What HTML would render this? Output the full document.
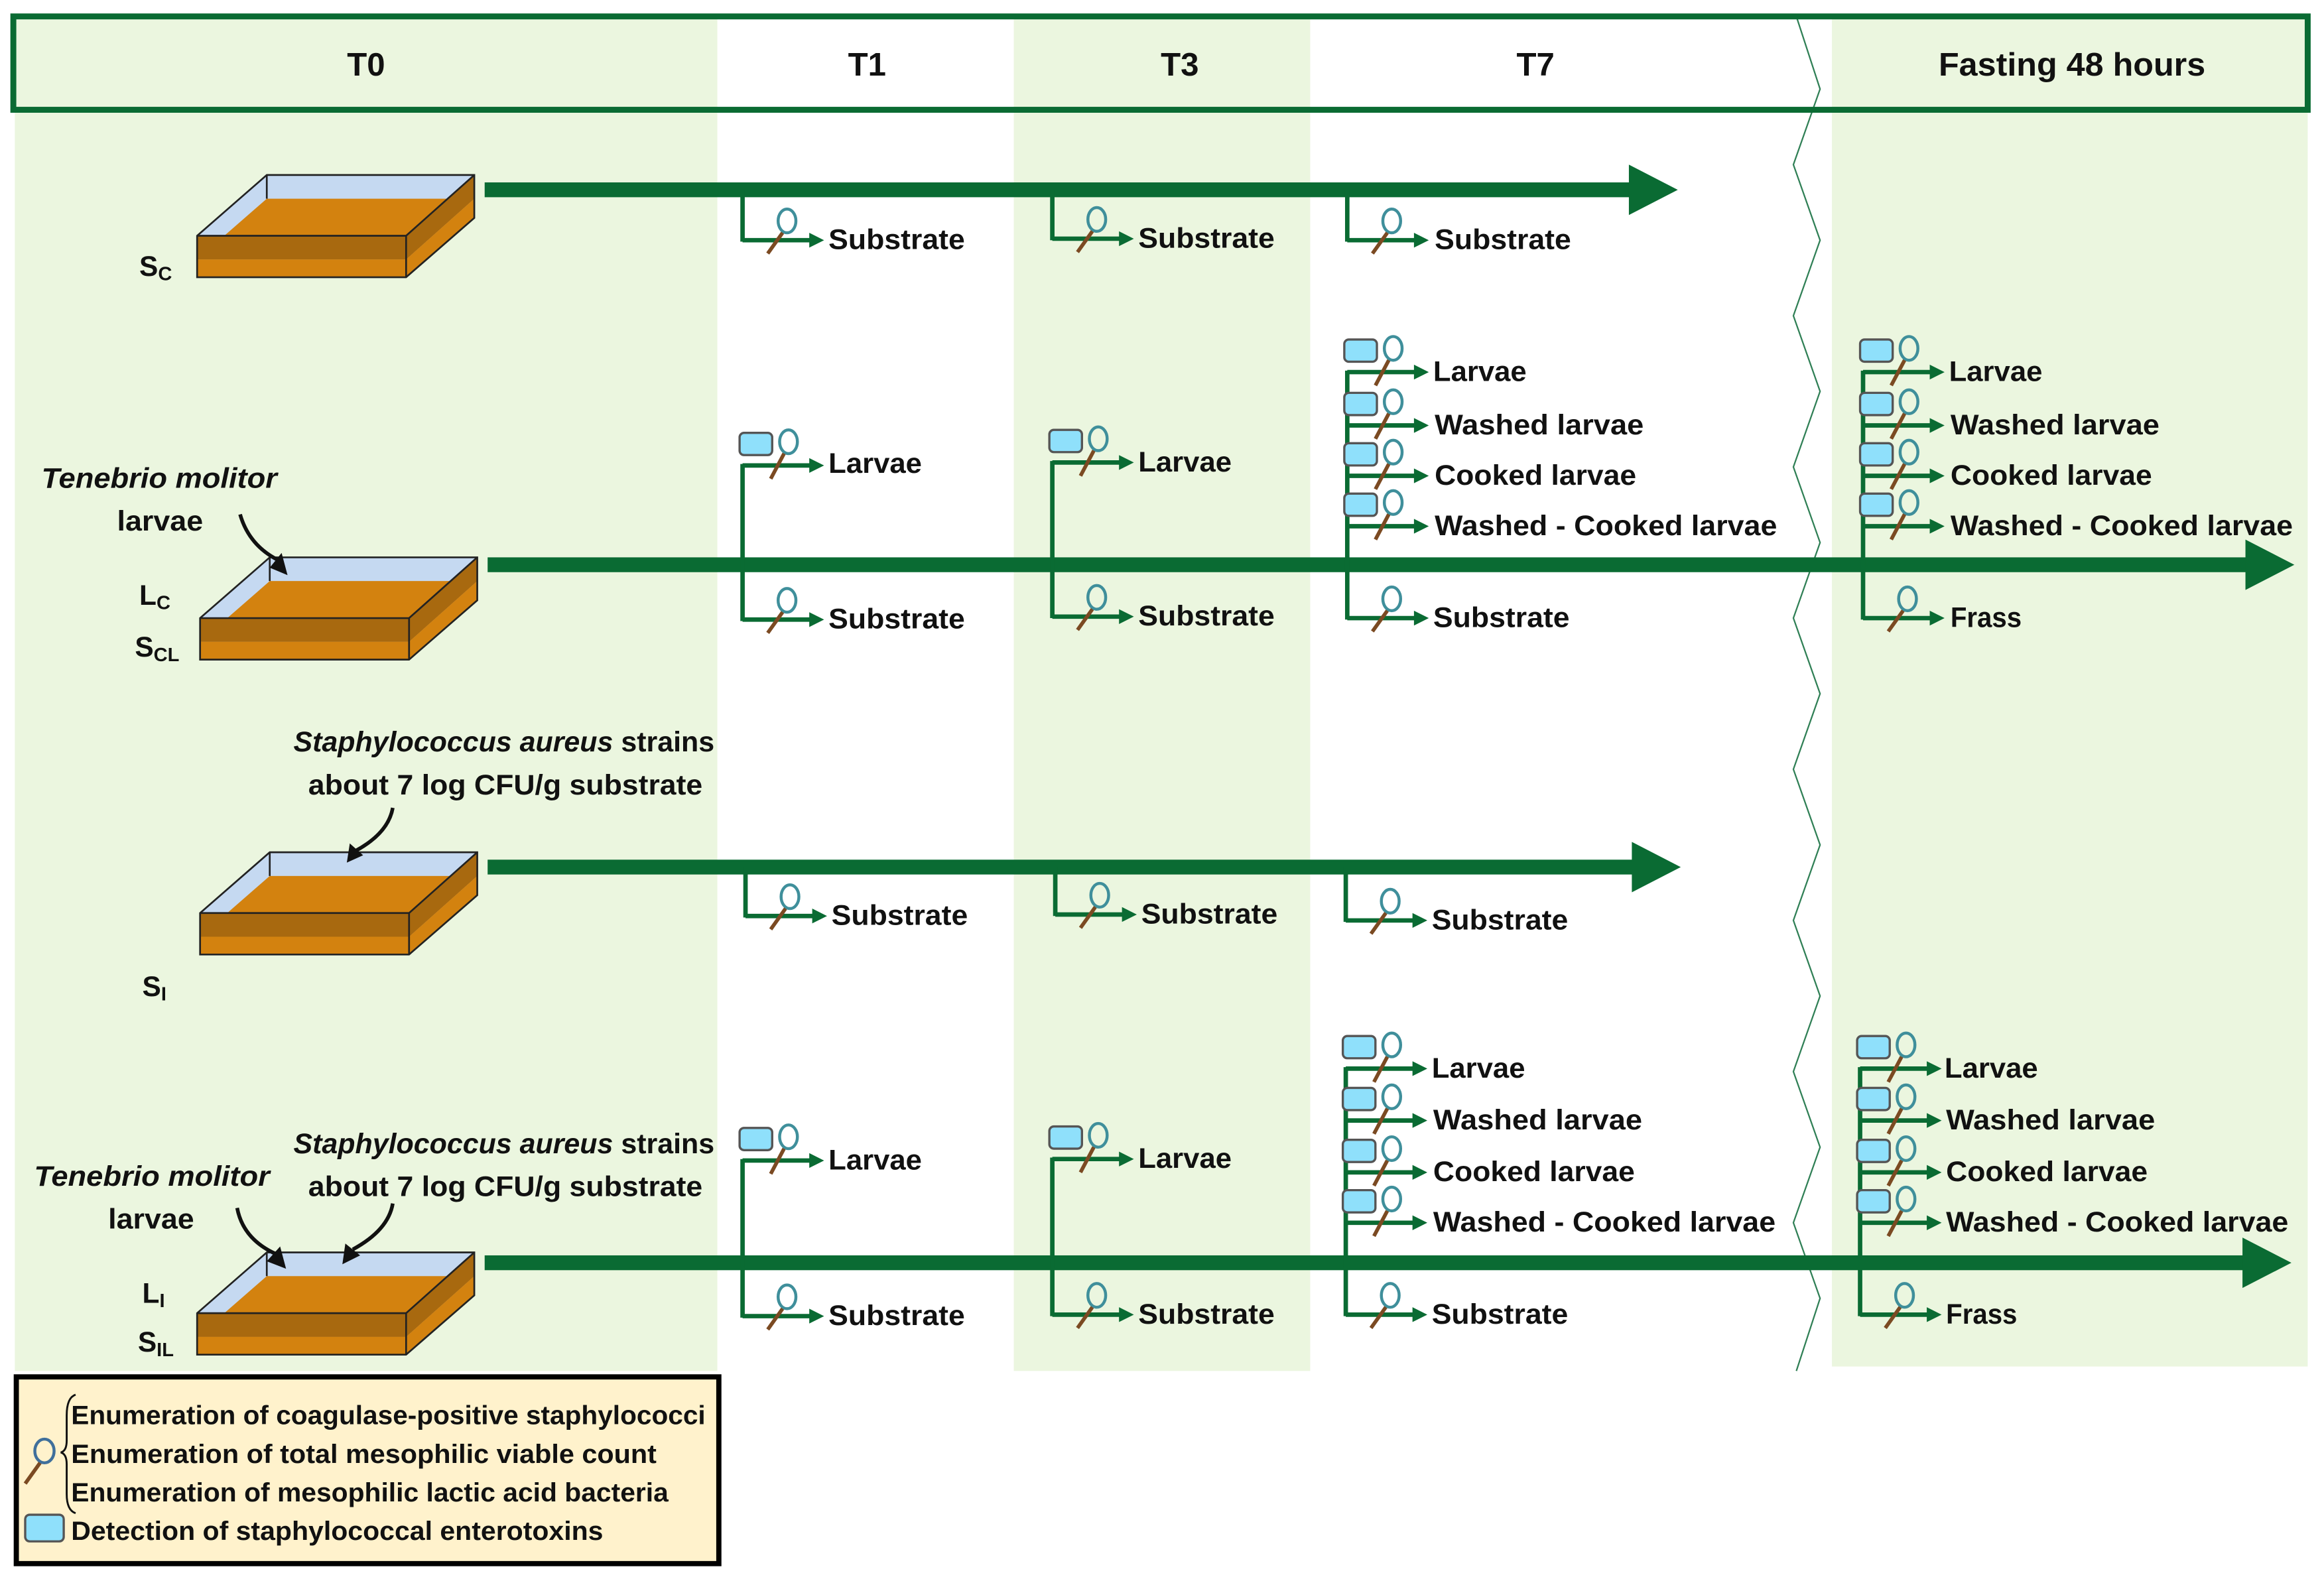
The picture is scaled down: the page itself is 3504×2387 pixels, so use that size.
<!DOCTYPE html>
<html><head><meta charset="utf-8"><style>
html,body{margin:0;padding:0;background:#fff}
svg{display:block}
text{font-family:"Liberation Sans",sans-serif;font-weight:bold;fill:#111}
</style></head><body>
<svg width="3504" height="2387" viewBox="0 0 1568 1068" xmlns="http://www.w3.org/2000/svg">
<defs>
<g id="br"><path d="M0,0H47" stroke="#0a6b33" stroke-width="3" fill="none"/><polygon points="45,-5 55,0 45,5" fill="#0a6b33"/></g>
<g id="mg"><ellipse cx="30" cy="-13" rx="6" ry="8" fill="none" stroke="#3f8f9b" stroke-width="2"/><line x1="27" y1="-5" x2="17" y2="9" stroke="#7b4a22" stroke-width="2.5"/></g>
<g id="mgr"><rect x="0" y="-22" width="22" height="15" rx="3" fill="#8fe0fb" stroke="#555" stroke-width="1.5"/><ellipse cx="33" cy="-16" rx="6" ry="8" fill="none" stroke="#3f8f9b" stroke-width="2"/><line x1="30" y1="-8" x2="21" y2="9" stroke="#7b4a22" stroke-width="2.5"/></g>
<g id="box">
<polygon points="0,41 47,0 187,0 187,29 141,69 0,69" fill="#c5d9f1"/>
<polygon points="47,16 187,16 141,57 0,57" fill="#d3820f"/>
<polygon points="0,41 141,41 141,57 0,57" fill="#a8690f"/>
<polygon points="141,41 187,0 187,16 141,57" fill="#a8690f"/>
<polygon points="0,57 141,57 141,69 0,69" fill="#d3820f"/>
<polygon points="141,57 187,16 187,29 141,69" fill="#d3820f"/>
<polygon points="0,41 47,0 187,0 187,29 141,69 0,69" fill="none" stroke="#222" stroke-width="1.2"/>
<path d="M0,41H141V69M141,41L187,0M47,0V16" fill="none" stroke="#222" stroke-width="1.2"/>
</g>
</defs>
<!-- column backgrounds -->
<rect x="10" y="11" width="474" height="914" fill="#ebf6df"/>
<rect x="684" y="11" width="200" height="914" fill="#ebf6df"/>
<rect x="1236" y="11" width="321" height="911" fill="#ebf6df"/>
<!-- zigzag -->
<polyline points="1212,11 1228,60 1210,111 1228,162 1210,213 1228,264 1210,315 1228,366 1210,417 1228,468 1210,519 1228,570 1210,621 1228,672 1210,723 1228,774 1210,825 1228,876 1212,925" fill="none" stroke="#2f7f55" stroke-width="1"/>
<!-- header -->
<rect x="9" y="11" width="1548" height="63" fill="none" stroke="#0a6b33" stroke-width="4"/>
<g font-size="22" text-anchor="middle">
<text x="247" y="51">T0</text><text x="585" y="51">T1</text><text x="796" y="51">T3</text><text x="1036" y="51">T7</text>
<text x="1398" y="51" textLength="180" lengthAdjust="spacingAndGlyphs">Fasting 48 hours</text>
</g>
<!-- boxes -->
<use href="#box" x="133" y="118"/>
<use href="#box" x="135" y="376"/>
<use href="#box" x="135" y="575"/>
<use href="#box" x="133" y="845"/>
<!-- main arrows -->
<g fill="#0a6b33">
<rect x="327" y="123" width="775" height="10"/><polygon points="1099,111 1132,128 1099,145"/>
<rect x="329" y="376" width="1190" height="10"/><polygon points="1515,364 1548,381 1515,398"/>
<rect x="329" y="580" width="775" height="10"/><polygon points="1101,568 1134,585 1101,602"/>
<rect x="327" y="847" width="1190" height="10"/><polygon points="1513,835 1546,852 1513,869"/>
</g>
<!-- vertical branch lines -->
<g stroke="#0a6b33" stroke-width="3">
<line x1="501" y1="128" x2="501" y2="163"/><line x1="710" y1="128" x2="710" y2="162"/><line x1="909" y1="128" x2="909" y2="163"/>
<line x1="501" y1="313" x2="501" y2="419"/><line x1="710" y1="311" x2="710" y2="417"/><line x1="909" y1="250" x2="909" y2="418"/><line x1="1257" y1="250" x2="1257" y2="418"/>
<line x1="503" y1="585" x2="503" y2="619"/><line x1="712" y1="585" x2="712" y2="618"/><line x1="908" y1="585" x2="908" y2="622"/>
<line x1="501" y1="782" x2="501" y2="889"/><line x1="710" y1="781" x2="710" y2="888"/><line x1="908" y1="720" x2="908" y2="888"/><line x1="1255" y1="720" x2="1255" y2="888"/>
</g>
<!-- branches -->
<g font-size="19">
<!-- row1 -->
<use href="#br" x="501" y="162"/><use href="#mg" x="501" y="162"/><text x="559" y="168" textLength="92" lengthAdjust="spacingAndGlyphs">Substrate</text>
<use href="#br" x="710" y="161"/><use href="#mg" x="710" y="161"/><text x="768" y="167" textLength="92" lengthAdjust="spacingAndGlyphs">Substrate</text>
<use href="#br" x="909" y="162"/><use href="#mg" x="909" y="162"/><text x="968" y="168" textLength="92" lengthAdjust="spacingAndGlyphs">Substrate</text>
<!-- row2 -->
<use href="#br" x="501" y="314"/><use href="#mgr" x="499" y="314"/><text x="559" y="319" textLength="63" lengthAdjust="spacingAndGlyphs">Larvae</text>
<use href="#br" x="501" y="418"/><use href="#mg" x="501" y="418"/><text x="559" y="424" textLength="92" lengthAdjust="spacingAndGlyphs">Substrate</text>
<use href="#br" x="710" y="312"/><use href="#mgr" x="708" y="312"/><text x="768" y="318" textLength="63" lengthAdjust="spacingAndGlyphs">Larvae</text>
<use href="#br" x="710" y="416"/><use href="#mg" x="710" y="416"/><text x="768" y="422" textLength="92" lengthAdjust="spacingAndGlyphs">Substrate</text>
<use href="#br" x="909" y="251"/><use href="#mgr" x="907" y="251"/><text x="967" y="257" textLength="63" lengthAdjust="spacingAndGlyphs">Larvae</text>
<use href="#br" x="909" y="287"/><use href="#mgr" x="907" y="287"/><text x="968" y="293" textLength="141" lengthAdjust="spacingAndGlyphs">Washed larvae</text>
<use href="#br" x="909" y="321"/><use href="#mgr" x="907" y="321"/><text x="968" y="327" textLength="136" lengthAdjust="spacingAndGlyphs">Cooked larvae</text>
<use href="#br" x="909" y="355"/><use href="#mgr" x="907" y="355"/><text x="968" y="361" textLength="231" lengthAdjust="spacingAndGlyphs">Washed - Cooked larvae</text>
<use href="#br" x="909" y="417"/><use href="#mg" x="909" y="417"/><text x="967" y="423" textLength="92" lengthAdjust="spacingAndGlyphs">Substrate</text>
<use href="#br" x="1257" y="251"/><use href="#mgr" x="1255" y="251"/><text x="1315" y="257" textLength="63" lengthAdjust="spacingAndGlyphs">Larvae</text>
<use href="#br" x="1257" y="287"/><use href="#mgr" x="1255" y="287"/><text x="1316" y="293" textLength="141" lengthAdjust="spacingAndGlyphs">Washed larvae</text>
<use href="#br" x="1257" y="321"/><use href="#mgr" x="1255" y="321"/><text x="1316" y="327" textLength="136" lengthAdjust="spacingAndGlyphs">Cooked larvae</text>
<use href="#br" x="1257" y="355"/><use href="#mgr" x="1255" y="355"/><text x="1316" y="361" textLength="231" lengthAdjust="spacingAndGlyphs">Washed - Cooked larvae</text>
<use href="#br" x="1257" y="417"/><use href="#mg" x="1257" y="417"/><text x="1316" y="423" textLength="48" lengthAdjust="spacingAndGlyphs">Frass</text>
<!-- row3 -->
<use href="#br" x="503" y="618"/><use href="#mg" x="503" y="618"/><text x="561" y="624" textLength="92" lengthAdjust="spacingAndGlyphs">Substrate</text>
<use href="#br" x="712" y="617"/><use href="#mg" x="712" y="617"/><text x="770" y="623" textLength="92" lengthAdjust="spacingAndGlyphs">Substrate</text>
<use href="#br" x="908" y="621"/><use href="#mg" x="908" y="621"/><text x="966" y="627" textLength="92" lengthAdjust="spacingAndGlyphs">Substrate</text>
<!-- row4 -->
<use href="#br" x="501" y="783"/><use href="#mgr" x="499" y="783"/><text x="559" y="789" textLength="63" lengthAdjust="spacingAndGlyphs">Larvae</text>
<use href="#br" x="501" y="888"/><use href="#mg" x="501" y="888"/><text x="559" y="894" textLength="92" lengthAdjust="spacingAndGlyphs">Substrate</text>
<use href="#br" x="710" y="782"/><use href="#mgr" x="708" y="782"/><text x="768" y="788" textLength="63" lengthAdjust="spacingAndGlyphs">Larvae</text>
<use href="#br" x="710" y="887"/><use href="#mg" x="710" y="887"/><text x="768" y="893" textLength="92" lengthAdjust="spacingAndGlyphs">Substrate</text>
<use href="#br" x="908" y="721"/><use href="#mgr" x="906" y="721"/><text x="966" y="727" textLength="63" lengthAdjust="spacingAndGlyphs">Larvae</text>
<use href="#br" x="908" y="756"/><use href="#mgr" x="906" y="756"/><text x="967" y="762" textLength="141" lengthAdjust="spacingAndGlyphs">Washed larvae</text>
<use href="#br" x="908" y="791"/><use href="#mgr" x="906" y="791"/><text x="967" y="797" textLength="136" lengthAdjust="spacingAndGlyphs">Cooked larvae</text>
<use href="#br" x="908" y="825"/><use href="#mgr" x="906" y="825"/><text x="967" y="831" textLength="231" lengthAdjust="spacingAndGlyphs">Washed - Cooked larvae</text>
<use href="#br" x="908" y="887"/><use href="#mg" x="908" y="887"/><text x="966" y="893" textLength="92" lengthAdjust="spacingAndGlyphs">Substrate</text>
<use href="#br" x="1255" y="721"/><use href="#mgr" x="1253" y="721"/><text x="1312" y="727" textLength="63" lengthAdjust="spacingAndGlyphs">Larvae</text>
<use href="#br" x="1255" y="756"/><use href="#mgr" x="1253" y="756"/><text x="1313" y="762" textLength="141" lengthAdjust="spacingAndGlyphs">Washed larvae</text>
<use href="#br" x="1255" y="791"/><use href="#mgr" x="1253" y="791"/><text x="1313" y="797" textLength="136" lengthAdjust="spacingAndGlyphs">Cooked larvae</text>
<use href="#br" x="1255" y="825"/><use href="#mgr" x="1253" y="825"/><text x="1313" y="831" textLength="231" lengthAdjust="spacingAndGlyphs">Washed - Cooked larvae</text>
<use href="#br" x="1255" y="887"/><use href="#mg" x="1255" y="887"/><text x="1313" y="893" textLength="48" lengthAdjust="spacingAndGlyphs">Frass</text>
</g>
<!-- left labels -->
<g font-size="19">
<text x="94" y="186">S<tspan font-size="13" dy="3">C</tspan></text>
<text x="94" y="408">L<tspan font-size="13" dy="3">C</tspan></text>
<text x="91" y="443">S<tspan font-size="13" dy="3">CL</tspan></text>
<text x="96" y="672">S<tspan font-size="13" dy="3">I</tspan></text>
<text x="96" y="879">L<tspan font-size="13" dy="3">I</tspan></text>
<text x="93" y="912">S<tspan font-size="13" dy="3">IL</tspan></text>
<text x="28" y="329" font-style="italic" textLength="159" lengthAdjust="spacingAndGlyphs">Tenebrio molitor</text>
<text x="79" y="358" textLength="58" lengthAdjust="spacingAndGlyphs">larvae</text>
<text x="198" y="507" textLength="284" lengthAdjust="spacingAndGlyphs"><tspan font-style="italic">Staphylococcus aureus</tspan> strains</text>
<text x="208" y="536" textLength="266" lengthAdjust="spacingAndGlyphs">about 7 log CFU/g substrate</text>
<text x="23" y="800" font-style="italic" textLength="159" lengthAdjust="spacingAndGlyphs">Tenebrio molitor</text>
<text x="73" y="829" textLength="58" lengthAdjust="spacingAndGlyphs">larvae</text>
<text x="198" y="778" textLength="284" lengthAdjust="spacingAndGlyphs"><tspan font-style="italic">Staphylococcus aureus</tspan> strains</text>
<text x="208" y="807" textLength="266" lengthAdjust="spacingAndGlyphs">about 7 log CFU/g substrate</text>
</g>
<!-- curved arrows -->
<g fill="none" stroke="#111" stroke-width="2.5">
<path d="M162,347 Q168,368 188,378"/>
<path d="M265,545 Q262,562 240,574"/>
<path d="M160,815 Q164,836 186,846"/>
<path d="M265,812 Q262,830 238,843"/>
</g>
<g fill="#111">
<polygon points="194,388 182,383 190,373"/>
<polygon points="234,582 236,569 245,577"/>
<polygon points="193,856 180,851 189,841"/>
<polygon points="231,853 233,839 243,847"/>
</g>
<!-- legend -->
<rect x="11" y="929" width="474" height="126" fill="#fff2cc" stroke="#000" stroke-width="3.5"/>
<g font-size="18">
<text x="48" y="961" textLength="428" lengthAdjust="spacingAndGlyphs">Enumeration of coagulase-positive staphylococci</text>
<text x="48" y="987" textLength="395" lengthAdjust="spacingAndGlyphs">Enumeration of total mesophilic viable count</text>
<text x="48" y="1013" textLength="403" lengthAdjust="spacingAndGlyphs">Enumeration of mesophilic lactic acid bacteria</text>
<text x="48" y="1039" textLength="359" lengthAdjust="spacingAndGlyphs">Detection of staphylococcal enterotoxins</text>
</g>
<path d="M51,941 Q45,943 45,955 L45,972 Q45,979 41,980 Q45,981 45,988 L45,1008 Q45,1019 51,1021" fill="none" stroke="#111" stroke-width="1.3"/>
<ellipse cx="30" cy="979" rx="6.5" ry="8" fill="none" stroke="#3f6f9b" stroke-width="2"/>
<line x1="27" y1="987" x2="17" y2="1001" stroke="#7b4a22" stroke-width="2.5"/>
<rect x="17" y="1022" width="26" height="18" rx="3" fill="#8fe0fb" stroke="#555" stroke-width="1.5"/>
</svg>
</body></html>
